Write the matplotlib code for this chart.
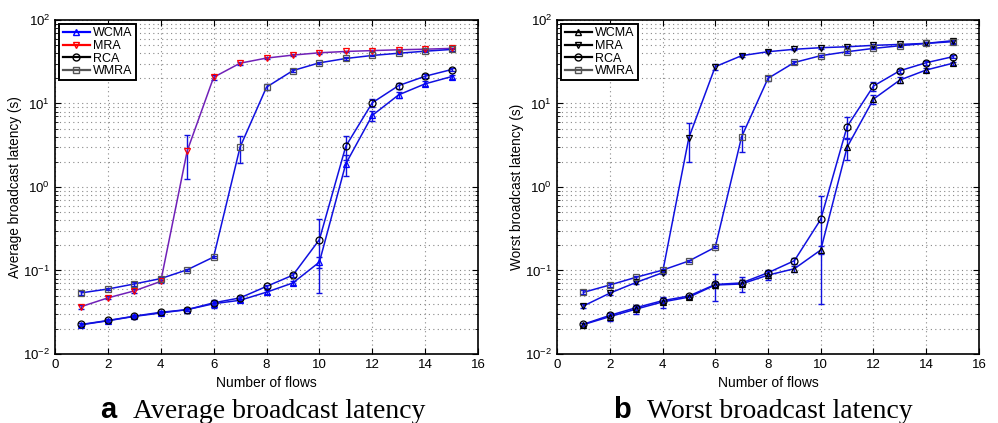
import numpy as np
import matplotlib.pyplot as plt
from matplotlib.lines import Line2D

# === DATI ===
flows = [1, 2, 3, 4, 5, 6, 7, 8, 9, 10, 11, 12, 13, 14, 15]
nomi = ['WCMA', 'MRA', 'RCA', 'WMRA']

# (a) latenza media
wcma_avg = [0.0224, 0.025, 0.0282, 0.031, 0.034, 0.040, 0.044, 0.055, 0.071, 0.126, 1.9, 7.2, 12.7, 17.2, 21]
mra_avg = [0.037, 0.047, 0.057, 0.074, 2.7, 20.6, 30.4, 35, 38, 40.5, 42, 43, 44, 44.7, 45.7]
rca_avg = [0.0226, 0.0252, 0.0284, 0.0316, 0.034, 0.041, 0.047, 0.0645, 0.088, 0.234, 3.08, 10.2, 16.4, 21.2, 25.5]
wmra_avg = [0.054, 0.060, 0.069, 0.080, 0.102, 0.145, 3.0, 15.7, 24.8, 30.7, 34.6, 37.6, 40, 42.3, 44.4]

wcma_avg_err = [0.001, 0.001, 0.001, 0.0015, 0.0015, 0.004, 0.002, 0.003, 0.004, 0.02, 0.55, 1.0, 1.2, 1.2, 1.2]
mra_avg_err = [0.002, 0.002, 0.003, 0.003, 1.45, 1.5, 1.2, 1, 1, 1, 1, 1, 1, 1, 1]
rca_avg_err = [0.001, 0.001, 0.001, 0.0015, 0.0015, 0.002, 0.002, 0.003, 0.005, 0.18, 0.95, 1.1, 1.3, 1.2, 1.2]
wmra_avg_err = [0.003, 0.002, 0.003, 0.003, 0.003, 0.004, 1.05, 1.2, 1, 1, 1, 1, 1, 1, 1.5]

# (b) latenza peggiore
wcma_worst = [0.0225, 0.028, 0.0345, 0.042, 0.048, 0.067, 0.069, 0.088, 0.105, 0.176, 3.0, 11.3, 19.1, 25.2, 30.3]
mra_worst = [0.0376, 0.0535, 0.072, 0.094, 3.9, 27.6, 37.4, 41.7, 44.6, 46.6, 47.8, 49.7, 51, 52.5, 56.5]
rca_worst = [0.0227, 0.029, 0.0359, 0.0435, 0.0495, 0.068, 0.071, 0.094, 0.131, 0.41, 5.3, 16.2, 24.7, 30.8, 36.3]
wmra_worst = [0.0547, 0.067, 0.083, 0.101, 0.13, 0.19, 4.0, 20, 31, 37.4, 41.7, 45.7, 49.2, 52.5, 55]

wcma_worst_err = [0.001, 0.003, 0.004, 0.006, 0.003, 0.024, 0.014, 0.01, 0.008, 0.02, 0.9, 1.5, 1.5, 1.5, 1.5]
mra_worst_err = [0.002, 0.002, 0.003, 0.004, 1.9, 2.5, 1.5, 1.5, 1.2, 1.2, 1.2, 1.2, 1.5, 2, 3]
rca_worst_err = [0.001, 0.002, 0.002, 0.003, 0.002, 0.005, 0.005, 0.008, 0.01, 0.37, 1.5, 2, 1.5, 1.5, 1.5]
wmra_worst_err = [0.003, 0.003, 0.004, 0.004, 0.004, 0.006, 1.4, 1.5, 1.5, 1.2, 1.2, 1.2, 1.5, 2, 3]

marcatori = ['^', 'v', 'o', 's']
col_a = ['blue', 'red', 'black', '#555555']
col_b = ['black', 'black', 'black', '#555555']
blu = '#1010e0'

plt.rcParams['font.family'] = ['Liberation Sans', 'DejaVu Sans']
plt.rcParams['mathtext.fontset'] = 'custom'
plt.rcParams['mathtext.rm'] = 'Liberation Sans'
plt.rcParams['mathtext.it'] = 'Liberation Sans:italic'

fig = plt.figure(figsize=(9.98, 4.23), dpi=100)
ax_a = fig.add_axes([55 / 998, 1 - 354 / 423, 423 / 998, 334 / 423])
ax_b = fig.add_axes([557 / 998, 1 - 354 / 423, 422 / 998, 334 / 423])

griglia = dict(ls=(0, (1, 3)), color='#888888', lw=0.8)


def pannello(ax, serie, errori, colori, ylabel, viola=False):
    for k, (y, e) in enumerate(zip(serie, errori)):
        lc = blu
        if viola and k == 1:
            lc = '#7020b8'
        ax.errorbar(flows, y, yerr=e, color=blu, lw=1.1, capsize=2.5, capthick=1.0,
                    elinewidth=1.0, fmt='none', zorder=3)
        ax.plot(flows, y, '-', color=lc, lw=1.1, zorder=4)
        ax.plot(flows, y, ls='none', marker=marcatori[k], ms=5, mfc='none',
                mec=colori[k], mew=0.9, zorder=5)
    ax.set_yscale('log')
    ax.set_xlim(0, 16)
    ax.set_ylim(1e-2, 1e2)
    ax.set_xticks(np.arange(0, 17, 2))
    ax.grid(True, which='major', axis='x', **griglia)
    ax.grid(True, which='both', axis='y', **griglia)
    ax.tick_params(which='both', direction='in', top=True, right=True, labelsize=9.5)
    ax.tick_params(which='major', length=4)
    ax.tick_params(which='minor', length=2)
    for s in ax.spines.values():
        s.set_linewidth(1.2)
    ax.set_xlabel('Number of flows', fontsize=10)
    ax.set_ylabel(ylabel, fontsize=9.8)
    ax.yaxis.set_label_coords(-33 / 423, 0.5)
    maniglie = [Line2D([0], [0], color=colori[k], lw=1.6, marker=marcatori[k], ms=5,
                       mfc='none', mec=colori[k]) for k in range(4)]
    leg = ax.legend(maniglie, nomi, loc='upper left', fontsize=9, fancybox=False,
                    framealpha=1, edgecolor='black', handlelength=2.2,
                    borderaxespad=0.35, labelspacing=0.05, handletextpad=0.25,
                    borderpad=0.25)
    leg.get_frame().set_linewidth(1.4)


pannello(ax_a, [wcma_avg, mra_avg, rca_avg, wmra_avg],
         [wcma_avg_err, mra_avg_err, rca_avg_err, wmra_avg_err],
         col_a, 'Average broadcast latency (s)', viola=True)
pannello(ax_b, [wcma_worst, mra_worst, rca_worst, wmra_worst],
         [wcma_worst_err, mra_worst_err, rca_worst_err, wmra_worst_err],
         col_b, 'Worst broadcast latency (s)')

# didascalie
yb = (423 - 417.5) / 423
fig.text(100 / 998, yb, 'a', fontsize=21, fontweight='bold', va='baseline', family='Liberation Sans')
fig.text(133 / 998, yb, 'Average broadcast latency', fontsize=20, va='baseline', family='Liberation Serif')
fig.text(613 / 998, yb, 'b', fontsize=21, fontweight='bold', va='baseline', family='Liberation Sans')
fig.text(647 / 998, yb, 'Worst broadcast latency', fontsize=20, va='baseline', family='Liberation Serif')

fig.savefig('out.png', dpi=100)
